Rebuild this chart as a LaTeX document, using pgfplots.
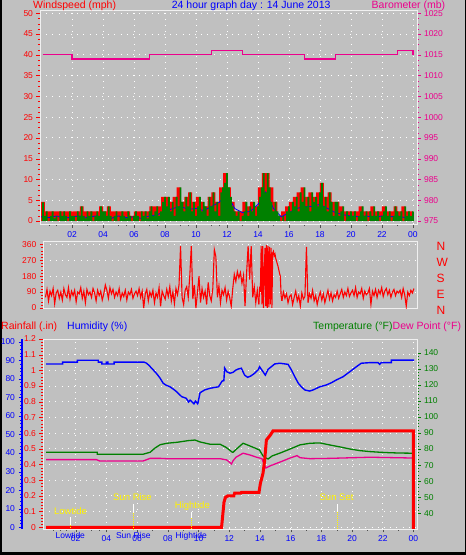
\documentclass[border=0pt]{standalone}
\usepackage{pgfplots}
\pgfplotsset{compat=1.18}
\usepackage{fontspec}
\setmainfont{Liberation Sans}
\definecolor{bg}{HTML}{C0C0C0}
\definecolor{tgreen}{HTML}{008000}
\definecolor{tk}{HTML}{505050}
\pgfplotsset{
  panel/.style={scale only axis, anchor=south west, clip=true,
    /pgf/number format/assume math mode=true, /pgf/number format/1000 sep={},
    scaled ticks=false,
    tick label style={font=\fontsize{8.5}{9}\selectfont},
    tick align=outside, major tick length=3.5pt, minor tick length=2pt,
    axis line style={white!94!black, line width=0.9pt},
    grid style={white, line width=0.9pt, dash pattern=on 0.9pt off 5.3pt},
  },
}
\begin{document}
\begin{tikzpicture}[x=1pt,y=1pt]
\useasboundingbox (0,0) rectangle (466,555);
\fill[bg] (0,0) rectangle (466,555);
\fill[black] (0,0) rectangle (2,555);
\fill[black] (0,0) rectangle (466,3.3);
\fill[black] (465,0) rectangle (466,555);

% ---------------- Panel 1: wind speed ----------------
\begin{axis}[panel, at={(40pt,330.7pt)}, width=377pt, height=214pt,
  xmin=-0.065, xmax=24.26, ymin=-0.8, ymax=50.72,
  xtick={2,4,...,24}, xticklabels={02,04,06,08,10,12,14,16,18,20,22,00},
  minor xtick={0.5,1,3,5,5.5,7,7.5,9,9.5,11,11.5,13,15,17,19,21,23},
  ytick={0,5,...,50}, minor y tick num=3,
  tick pos=left,
  xticklabel style={blue}, yticklabel style={red},
  xtick style={tk}, ytick style={red},
  xmajorgrids, ymajorgrids]
\addplot[const plot, fill=red, draw=none] table[row sep=\\, header=false, x expr=\coordindex*0.25, y index=0] {
4.6\\2.3\\2.3\\2.3\\ 2.3\\2.3\\2.3\\2.3\\ 2.3\\2.3\\3.5\\2.3\\ 2.3\\2.3\\2.3\\3.5\\
2.3\\3.5\\2.3\\2.3\\ 2.3\\2.3\\2.3\\1.2\\ 2.3\\2.3\\2.3\\2.3\\ 3.5\\3.5\\3.5\\5.8\\
5.8\\4.6\\5.8\\8.1\\ 4.6\\5.8\\6.9\\4.6\\ 5.8\\4.6\\3.5\\5.8\\ 6.9\\4.6\\8.1\\11.5\\
8.1\\4.6\\2.3\\2.3\\ 4.6\\3.5\\4.6\\3.5\\ 8.1\\11.5\\11.5\\8.1\\ 4.6\\1.2\\2.3\\3.5\\
4.6\\5.8\\6.9\\8.1\\ 5.8\\6.9\\5.8\\6.9\\ 9.2\\5.8\\6.9\\4.6\\ 4.6\\3.5\\2.3\\2.3\\
2.3\\2.3\\3.5\\2.3\\ 2.3\\3.5\\2.3\\2.3\\ 3.5\\2.3\\2.3\\3.5\\ 2.3\\3.5\\2.3\\2.3\\ 2.3\\
} \closedcycle;
\addplot[blue, line width=0.8pt] table[row sep=\\, header=false, x expr=\coordindex*0.5, y index=0] {
1.0\\0.8\\1.2\\0.6\\1.0\\1.2\\0.8\\1.2\\1.0\\0.6\\1.2\\0.8\\1.0\\0.6\\1.2\\1.5\\2.3\\3.0\\3.5\\2.8\\3.0\\2.5\\3.5\\4.5\\6.5\\
3.0\\2.0\\2.3\\4.0\\7.0\\3.0\\1.0\\2.0\\3.0\\3.5\\3.5\\4.0\\3.0\\2.0\\1.5\\1.2\\1.0\\1.2\\0.8\\1.2\\1.0\\1.2\\0.8\\1.0\\
};
\addplot[ybar, bar width=1.8pt, fill=tgreen, draw=none] table[row sep=\\, header=false, x expr=\coordindex*0.125+0.125, y index=0] {
4.5\\1.2\\2.3\\0\\1.2\\2.3\\0.6\\1.2\\
0\\2.3\\1.2\\2.3\\1.2\\0\\2.3\\1.2\\
1.2\\0\\2.3\\1.2\\3.5\\1.2\\0.6\\2.3\\
1.2\\2.3\\0\\1.2\\2.3\\1.2\\3.5\\2.3\\
2.3\\1.2\\3.5\\1.2\\0\\1.2\\2.3\\0\\
1.2\\2.3\\1.2\\0.6\\2.3\\1.2\\0\\1.2\\
2.3\\1.2\\0\\2.3\\1.2\\2.3\\0.6\\2.3\\
3.5\\1.2\\2.3\\3.5\\1.2\\2.3\\4.6\\5.8\\
3.5\\5.8\\2.3\\4.6\\1.2\\5.8\\3.5\\8.1\\
4.6\\2.3\\5.8\\3.5\\6.9\\2.3\\4.6\\1.2\\
3.5\\5.8\\2.3\\4.6\\3.5\\1.2\\5.8\\3.5\\
6.9\\2.3\\4.6\\1.2\\6.9\\8.1\\9.2\\11.5\\
8.1\\5.8\\3.5\\2.3\\1.2\\2.3\\0\\1.2\\
2.3\\4.6\\1.2\\3.5\\2.3\\4.6\\1.2\\3.5\\
5.8\\8.1\\11.5\\6.9\\11.5\\8.1\\4.6\\2.3\\
4.6\\2.3\\1.2\\0\\1.2\\0\\2.3\\3.5\\
2.3\\4.6\\3.5\\5.8\\2.3\\6.9\\4.6\\8.1\\
3.5\\5.8\\2.3\\6.9\\4.6\\5.8\\3.5\\6.9\\
9.2\\3.5\\5.8\\2.3\\6.9\\4.6\\1.2\\4.6\\
4.6\\1.2\\2.3\\3.5\\0\\2.3\\1.2\\2.3\\
1.2\\2.3\\0\\1.2\\2.3\\3.5\\1.2\\2.3\\
0\\2.3\\1.2\\3.5\\1.2\\2.3\\0\\1.2\\
2.3\\3.5\\1.2\\2.3\\0\\1.2\\3.5\\2.3\\
1.2\\2.3\\0\\3.5\\1.2\\2.3\\1.2\\2.3\\
};
\end{axis}
% barometer
\begin{axis}[panel, at={(40pt,330.7pt)}, width=377pt, height=214pt,
  xmin=-0.065, xmax=24.26, ymin=974.2, ymax=1025.72,
  axis x line=none, axis y line*=right,
  ytick={975,980,...,1025}, minor y tick num=3,
  yticklabel style={magenta}, ytick style={magenta}]
\addplot[const plot, magenta, line width=1.1pt] coordinates {
(0.1,1015)(2,1014)(7,1015)(11,1016)(13,1015)(17,1014)(19,1015)(23,1016)(24,1015)};
\end{axis}

% ---------------- Panel 2: wind direction ----------------
\begin{axis}[panel, at={(43.3pt,246.3pt)}, width=374pt, height=67.7pt,
  xmin=-0.14, xmax=24.22, ymin=-4, ymax=378.6,
  xtick=\empty, ytick={0,90,...,360}, minor y tick num=4,
  tick pos=left, yticklabel style={red}, ytick style={red},
  ymajorgrids]
\addplot[red, line width=1.1pt] table[row sep=\\, header=false, x expr=\coordindex*0.1, y index=0] {
60\\105\\40\\95\\70\\110\\25\\85\\100\\55\\
90\\45\\110\\75\\60\\115\\50\\95\\70\\100\\
35\\90\\80\\115\\55\\95\\30\\105\\75\\90\\
60\\110\\85\\40\\100\\70\\95\\45\\80\\130\\
100\\55\\115\\80\\105\\60\\90\\70\\110\\50\\
85\\65\\100\\45\\90\\75\\105\\55\\80\\95\\
70\\110\\60\\95\\0\\80\\105\\40\\90\\65\\
100\\30\\85\\60\\115\\10\\95\\70\\50\\105\\
65\\120\\40\\90\\25\\110\\75\\130\\350\\60\\
20\\100\\120\\60\\180\\350\\50\\130\\0\\85\\
180\\30\\110\\60\\95\\20\\145\\70\\40\\110\\
330\\290\\60\\125\\30\\100\\75\\115\\45\\95\\
60\\10\\110\\190\\150\\205\\170\\200\\140\\185\\
10\\195\\350\\160\\350\\60\\120\\30\\100\\20\\
};
\addplot[red, line width=1.1pt] table[row sep=\\, header=false, x expr=13.9+\coordindex*0.05, y index=0] {
20\\120\\90\\350\\20\\350\\0\\200\\340\\10\\355\\0\\350\\5\\345\\20\\340\\0\\310\\320\\
295\\305\\280\\265\\250\\235\\215\\195\\180\\70\\40\\
};
\addplot[red, line width=1.1pt] table[row sep=\\, header=false, x expr=15.4+\coordindex*0.1, y index=0] {
40\\90\\55\\80\\30\\65\\
75\\20\\60\\95\\40\\70\\10\\85\\50\\65\\
345\\30\\80\\55\\100\\40\\70\\20\\60\\90\\
45\\80\\30\\65\\100\\50\\85\\40\\75\\60\\
95\\55\\80\\105\\60\\90\\70\\110\\65\\85\\
100\\70\\115\\60\\90\\80\\110\\55\\95\\75\\
85\\110\\20\\95\\70\\105\\60\\100\\80\\115\\
65\\95\\110\\75\\100\\60\\90\\105\\70\\95\\
85\\100\\60\\110\\75\\10\\90\\70\\100\\85\\
110\\
};
\end{axis}
\begin{axis}[panel, at={(43.3pt,246.3pt)}, width=374pt, height=67.7pt,
  xmin=-0.14, xmax=24.22, ymin=-4, ymax=378.6,
  axis x line=none, axis y line*=right,
  ytick={0,90,180,270,360}, yticklabels={N,E,S,W,N},
  major tick length=0pt, ytick style={draw=none},
  yticklabel style={font=\fontsize{12}{12}\selectfont, red, anchor=west, inner sep=0pt, xshift=19pt, yshift=-2pt}]
\end{axis}

% ---------------- Panel 3 ----------------
\begin{axis}[panel, at={(43pt,26pt)}, width=374pt, height=190pt,
  xmin=-0.13, xmax=24.23, ymin=-0.011, ymax=1.2,
  xtick={2,4,...,24}, xticklabels={02,04,06,08,10,12,14,16,18,20,22,00},
  minor xtick={0.5,1,1.4,3,3.5,5,7,9,11,13,15,17,19,21,23},
  extra x ticks={1.65,5.75,9.53}, extra x tick labels={Lowtide,Sun Rise,Hightide},
  extra x tick style={major tick length=0pt, grid=none},
  ytick={0,0.1,0.2,0.3,0.4,0.5,0.6,0.7,0.8,0.9,1,1.1,1.2}, minor y tick num=4,
  tick pos=left,
  xticklabel style={blue}, yticklabel style={red},
  xtick style={tk}, ytick style={red},
  xmajorgrids, ymajorgrids]
\end{axis}
% humidity scale
\begin{axis}[panel, at={(22pt,26pt)}, width=1pt, height=190pt,
  xmin=0, xmax=1, ymin=-0.92, ymax=101.45,
  axis x line=none, axis y line*=left,
  ytick={0,10,...,100}, minor y tick num=4,
  yticklabel style={blue}, ytick style={blue},
  y axis line style={blue, line width=2.2pt}]
\end{axis}
% humidity data
\begin{axis}[panel, at={(43pt,26pt)}, width=374pt, height=190pt,
  xmin=-0.13, xmax=24.23, ymin=-0.92, ymax=101.45, hide axis]
\addplot[blue, line width=1.4pt] coordinates {
(0.07,88)(1.15,88)(1.15,89)(2.11,89)(2.11,90)(3.47,90)(3.47,89)(3.7,89)(3.7,88)(4.0,88)(4.0,89)(4.1,89)(4.1,88)(4.5,88)(4.5,89)
(6.45,89)(6.62,88.4)(6.8,87)(7.06,84.7)(7.3,82.5)(7.5,80.3)(7.7,77.6)(7.9,76.5)(8.14,75.7)(8.35,74.5)(8.58,73)(8.9,70.4)
(9.2,69.5)(9.35,67.5)(9.45,68.5)(9.56,67.7)(9.7,66.5)(9.8,68)(9.95,66.5)(10.1,72.5)(10.4,74)(10.75,74.9)(11.3,75.7)(11.54,78.8)
(11.65,79)(11.7,85.8)(11.84,83.8)(12.05,83)(12.25,83.5)(12.45,84.8)(12.6,85.3)(12.79,85.7)(13.0,82)(13.2,80.8)(13.4,81.5)
(13.66,83)(13.88,84.8)(13.98,86.5)(14.2,83.8)(14.35,82)(14.53,85.1)(14.74,86.5)(14.96,88)(15.29,88.4)(15.83,87.8)(16.05,84.8)
(16.27,81.1)(16.5,77.6)(16.7,75.7)(16.92,74)(17.24,73.4)(17.46,74)(17.9,75.7)(18.33,76.7)(18.66,77.9)(18.98,79.4)(19.41,81.1)
(19.85,83.8)(20.28,86.5)(20.6,88.4)(21.15,88.7)(21.69,88.7)(21.8,87.8)(21.9,88.7)(22.56,88.7)(22.56,90.1)(24.05,90.1)};
\end{axis}
% temperature / dew point
\begin{axis}[panel, at={(43pt,26pt)}, width=374pt, height=190pt,
  xmin=-0.13, xmax=24.23, ymin=30.22, ymax=148.5,
  axis x line=none, axis y line*=right,
  ytick={40,50,...,140}, minor y tick num=4,
  yticklabel style={tgreen}, ytick style={tgreen}]
\addplot[tgreen, line width=1.3pt] coordinates {
(0.07,78)(3.4,78)(3.4,76.8)(6.4,76.8)(6.85,78)(7.15,80.5)(7.5,82.7)(7.95,83.6)(8.6,84.2)(9.3,85.2)(9.77,85.6)(10.1,84.4)
(10.75,83)(11.4,83)(11.8,81)(12.2,78)(12.25,78)(12.45,79.8)(12.9,83.6)(13.2,82.5)(13.65,80.7)(13.97,79.4)(14.2,75.7)(14.4,74.4)
(14.53,73.8)(14.79,75.7)(15.31,77.5)(15.96,80)(16.61,82.6)(17.26,83.6)(17.91,83.8)(18.57,82.5)(19.22,81.3)(19.87,80)(20.52,79)
(21.17,78.4)(21.82,78)(22.48,77.7)(23.13,77.5)(24.0,77.4)};
\addplot[magenta, line width=1.3pt] coordinates {
(0.07,73.4)(3.35,73.4)(3.55,72.6)(6.4,72.6)(6.85,74.2)(7.5,74.2)(7.9,74)(11.4,74)(11.84,73.2)(12.15,70.7)(12.25,72.7)(12.44,74.9)
(12.9,77.4)(13.35,76.3)(13.75,75)(14.13,74)(14.26,70.7)(14.39,68.2)(14.66,69.5)(14.98,70.7)(15.31,71.9)(15.96,74.4)(16.42,75.9)
(16.61,74.6)(17.26,74)(18.57,74.2)(21.17,74.9)(24.0,74.4)};
\end{axis}
% rainfall data + annotations
\begin{axis}[panel, at={(43pt,26pt)}, width=374pt, height=190pt,
  xmin=-0.13, xmax=24.23, ymin=-0.011, ymax=1.2, hide axis]
\addplot[red, line width=3pt] coordinates {
(0.07,0)(11.5,0)(11.58,0.08)(11.66,0.16)(11.75,0.19)(11.9,0.2)(12.3,0.2)(12.35,0.217)(12.75,0.217)(12.8,0.223)(13.94,0.223)
(14.03,0.28)(14.2,0.344)(14.31,0.43)(14.42,0.556)(14.68,0.588)(14.85,0.614)(24.0,0.614)(24.0,-0.01)};
\draw[white, line width=1pt] (axis cs:1.65,0.064) -- (axis cs:1.65,0.015);
\draw[yellow, line width=1pt, dash pattern=on 1pt off 1pt] (axis cs:1.65,0.015) -- (axis cs:1.65,-0.008);
\draw[white, line width=1pt] (axis cs:5.75,0.147) -- (axis cs:5.75,0.093);
\draw[yellow, line width=1pt, dash pattern=on 1pt off 1pt] (axis cs:5.75,0.093) -- (axis cs:5.75,-0.011);
\draw[white, line width=1pt] (axis cs:9.53,0.099) -- (axis cs:9.53,0.057);
\draw[yellow, line width=1pt, dash pattern=on 1pt off 1pt] (axis cs:9.53,0.057) -- (axis cs:9.53,-0.008);
\draw[white, line width=1pt] (axis cs:19.07,0.147) -- (axis cs:19.07,0.099);
\draw[yellow, line width=1pt, dash pattern=on 1pt off 1pt] (axis cs:19.07,0.099) -- (axis cs:19.07,-0.011);
\node[yellow, font=\fontsize{9.5}{10}\selectfont, inner sep=0pt] at (axis cs:1.66,0.106) {Lowtide};
\node[yellow, font=\fontsize{9.5}{10}\selectfont, inner sep=0pt] at (axis cs:5.70,0.191) {Sun Rise};
\node[yellow, font=\fontsize{9.5}{10}\selectfont, inner sep=0pt] at (axis cs:9.60,0.138) {Hightide};
\node[yellow, font=\fontsize{9.5}{10}\selectfont, inner sep=0pt] at (axis cs:18.99,0.189) {Sun Set};
\end{axis}

% ---------------- Header texts ----------------
\node[anchor=base west, inner sep=0pt, text=red, font=\fontsize{10.5}{12}\selectfont] at (33,546) {Windspeed (mph)};
\node[anchor=base west, inner sep=0pt, text=blue, font=\fontsize{10.5}{12}\selectfont] at (171.7,546) {24 hour graph day : 14 June 2013};
\node[anchor=base west, inner sep=0pt, text=magenta, font=\fontsize{10.5}{12}\selectfont] at (371.5,546) {Barometer (mb)};
\node[anchor=base west, inner sep=0pt, text=red, font=\fontsize{10.5}{12}\selectfont] at (1,225) {Rainfall (.in)};
\node[anchor=base west, inner sep=0pt, text=blue, font=\fontsize{10.5}{12}\selectfont] at (67,225) {Humidity (\%)};
\node[anchor=base west, inner sep=0pt, text=tgreen, font=\fontsize{10.5}{12}\selectfont] at (313,225) {Temperature (°F)};
\node[anchor=base west, inner sep=0pt, text=magenta, font=\fontsize{10.5}{12}\selectfont] at (392.5,225) {Dew Point (°F)};
\end{tikzpicture}
\end{document}
